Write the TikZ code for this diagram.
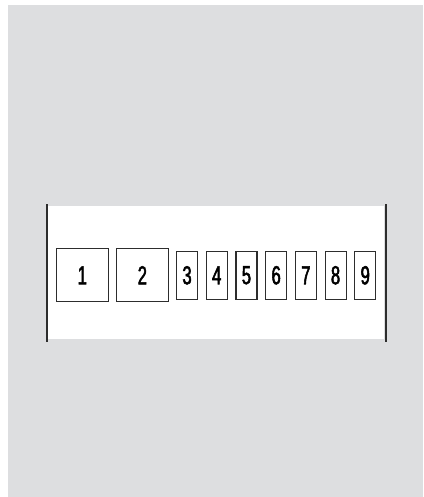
\documentclass[tikz,border=0pt]{standalone}
\usepackage{fontspec}
\usepackage{tikz}
\usetikzlibrary{positioning}
\newfontfamily\slotfont[FakeStretch=0.64,FakeBold=2]{Liberation Sans}
\definecolor{ink}{RGB}{45,45,45}
\definecolor{backgray}{RGB}{221,222,224}
\tikzset{
  slotbig/.style={draw=ink,line width=1.1pt,fill=white,outer sep=0pt,
    minimum width=51.6pt,minimum height=53pt,inner sep=0pt,
    font=\slotfont\fontsize{26}{26}\selectfont},
  slotsmall/.style={slotbig,minimum width=21pt,minimum height=47.6pt},
  rail/.style={ink,line width=2pt},
}

\begin{document}
\begin{tikzpicture}[x=1pt,y=-1pt,node distance=8.4pt]
  \useasboundingbox (0,0) rectangle (423,497);
  \fill[backgray] (8,5) rectangle (423,497);
  % white panel between the two rails
  \fill[white] (48,206) rectangle (384,339);
  \coordinate (railLtop) at (47,204);
  \coordinate (railLbot) at (47,342);
  \coordinate (railRtop) at (385.5,204);
  \coordinate (railRbot) at (385.5,342);
  \draw[rail] (railLtop) -- (railLbot);
  \draw[rail] (railRtop) -- (railRbot);
  % slots
  \node[slotbig] (s1) at (82.35,275.3) {1};
  \node[slotbig,right=of s1] (s2) {2};
  \node[slotsmall,right=of s2] (s3) {3};
  \foreach \i [remember=\i as \last (initially 3)] in {4,...,9}
    \node[slotsmall,right=8.7pt of s\last] (s\i) {\i};
\end{tikzpicture}
\end{document}
